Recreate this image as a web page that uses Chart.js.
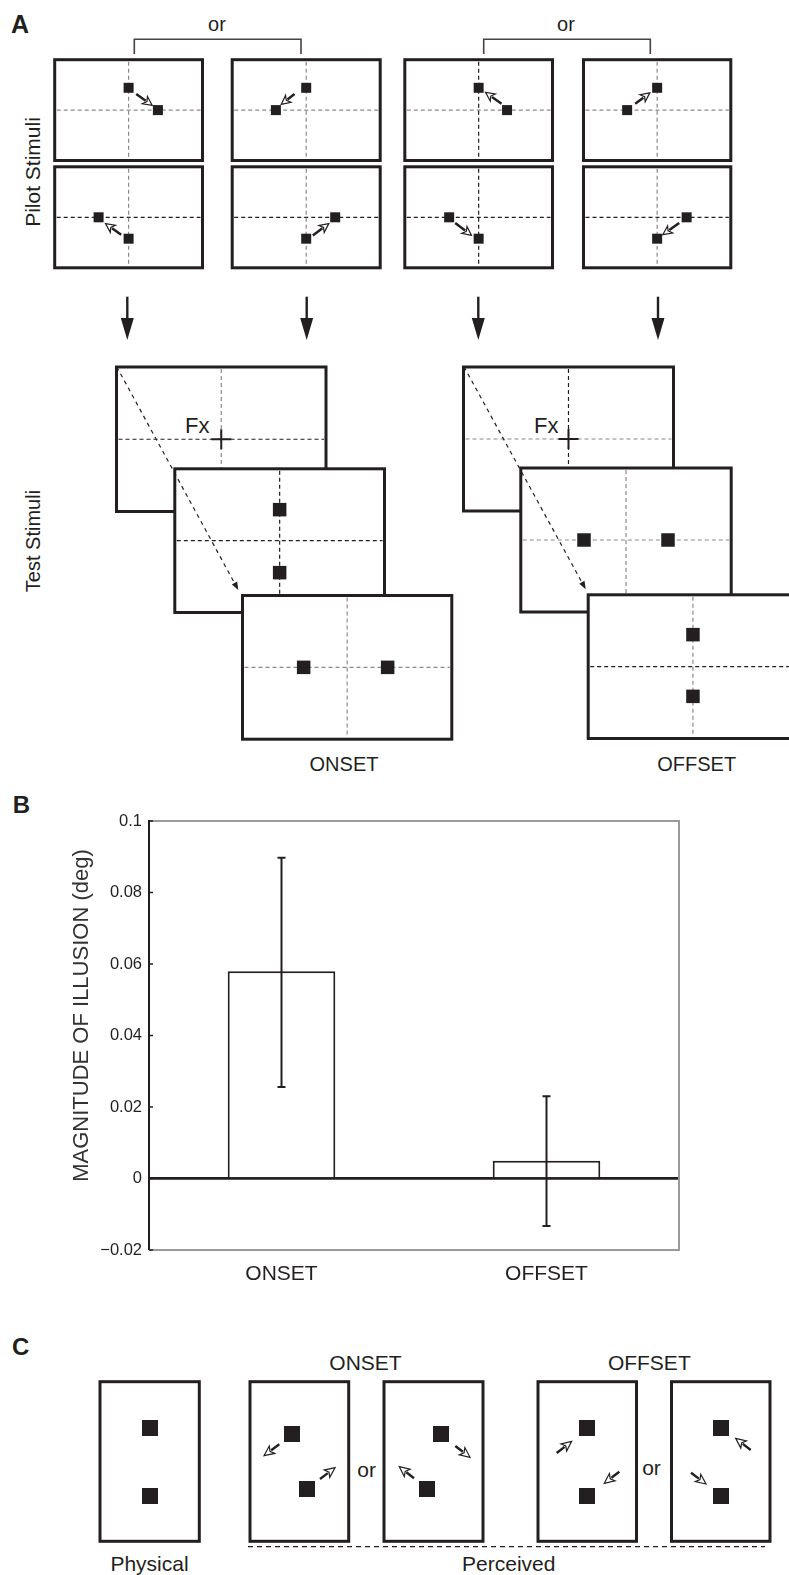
<!DOCTYPE html>
<html><head><meta charset="utf-8">
<script src="https://cdn.jsdelivr.net/npm/chart.js@4.4.1/dist/chart.umd.min.js"></script>
<style>
html,body{margin:0;padding:0;background:#fff;}
#page{position:relative;width:789px;height:1575px;overflow:hidden;background:#fff;}
#diagram{position:absolute;left:0;top:0;}
#chartBox{position:absolute;left:0;top:790px;width:789px;height:520px;}
</style></head><body>
<div id="page">
<svg id="diagram" width="789" height="1575" xmlns="http://www.w3.org/2000/svg"></svg>
<div id="chartBox"><canvas id="c" width="789" height="520"></canvas></div>
</div>
<script>
// ---- Panel B data ----
const categories = ['ONSET', 'OFFSET'];
const meanValues = [0.058, 0.005];
const errorUpper = [0.0897, 0.023];
const errorLower = [0.0256, -0.0133];
const yTickValues = [-0.02, 0, 0.02, 0.04, 0.06, 0.08, 0.1];
const yTickLabels = ['\u22120.02', '0', '0.02', '0.04', '0.06', '0.08', '0.1'];
const yAxisTitle = 'MAGNITUDE OF ILLUSION (deg)';

const INK = '#231f20', GRAY = '#8a8a8a';
const FONT = "'Liberation Sans', Arial, Helvetica, sans-serif";

// ---- Diagram helpers (panels A and C) ----
const NS = 'http://www.w3.org/2000/svg';
const svg = document.getElementById('diagram');
function el(tag, attrs) { const e = document.createElementNS(NS, tag); for (const k in attrs) e.setAttribute(k, attrs[k]); svg.appendChild(e); return e; }
function txt(str, x, y, size, o = {}) {
  const t = el('text', { x, y, 'font-size': size, 'font-family': FONT, fill: INK, 'text-anchor': o.anchor || 'middle', 'font-weight': o.weight || 'normal' });
  if (o.rotate) t.setAttribute('transform', `rotate(${o.rotate} ${x} ${y})`);
  t.textContent = str; return t;
}
function box(x1, y1, x2, y2, sw = 3) { el('rect', { x: x1, y: y1, width: x2 - x1, height: y2 - y1, fill: '#fff', stroke: INK, 'stroke-width': sw }); }
function dline(x1, y1, x2, y2, color, dash = '4 3', sw = 1.2) { el('line', { x1, y1, x2, y2, stroke: color, 'stroke-width': sw, 'stroke-dasharray': dash }); }
function sq(cx, cy, s) { el('rect', { x: cx - s / 2, y: cy - s / 2, width: s, height: s, fill: INK }); }
function arrow(x1, y1, x2, y2, headLen = 8, headW = 4, sw = 2.4) {
  const dx = x2 - x1, dy = y2 - y1, L = Math.hypot(dx, dy), ux = dx / L, uy = dy / L, px = -uy, py = ux;
  const bx = x2 - ux * headLen, by = y2 - uy * headLen;
  el('line', { x1, y1, x2: bx + ux, y2: by + uy, stroke: INK, 'stroke-width': sw });
  el('polygon', { points: `${x2},${y2} ${bx + px * headW},${by + py * headW} ${bx + ux * 2.5},${by + uy * 2.5} ${bx - px * headW},${by - py * headW}`, fill: '#fff', stroke: INK, 'stroke-width': 1.2 });
}
function crossLines(x1, y1, x2, y2, hColor, vColor) {
  const cx = (x1 + x2) / 2, cy = (y1 + y2) / 2;
  dline(x1 + 2, cy, x2 - 2, cy, hColor);
  dline(cx, y1 + 2, cx, y2 - 2, vColor);
  return [cx, cy];
}

// ---- Panel A ----
txt('A', 11, 33, 25, { anchor: 'start', weight: 'bold' });
txt('or', 217, 31, 20);
txt('or', 566, 31, 20);
el('polyline', { points: '134.3,54 134.3,39.3 301,39.3 301,54', fill: 'none', stroke: '#444', 'stroke-width': 1.6 });
el('polyline', { points: '483.7,54 483.7,39.3 650.3,39.3 650.3,54', fill: 'none', stroke: '#444', 'stroke-width': 1.6 });
txt('Pilot Stimuli', 40, 172, 21, { rotate: -90 });
txt('Test Stimuli', 40, 541, 20, { rotate: -90 });

const pilotCols = [[54.7, 202.5], [232.2, 380.2], [404.8, 552.5], [583.5, 730.8]];
const pilotRows = [[59.7, 160.5], [166.8, 267.8]];
const pilotLineColors = [
  [[GRAY, GRAY], [INK, GRAY]],
  [[GRAY, GRAY], [INK, GRAY]],
  [[GRAY, INK], [INK, INK]],
  [[GRAY, GRAY], [INK, GRAY]]
];
const sideTop = [29.3, -30.3, 28.4, -30];
const sideBot = [-30, 29, -29.5, 29.5];
pilotCols.forEach((c, ci) => {
  pilotRows.forEach((r, ri) => {
    box(c[0], r[0], c[1], r[1]);
    const [cx, cy] = crossLines(c[0], r[0], c[1], r[1], pilotLineColors[ci][ri][0], pilotLineColors[ci][ri][1]);
    if (ri === 0) { sq(cx, cy - 22.3, 10); sq(cx + sideTop[ci], cy, 10); }
    else { sq(cx, cy + 21.4, 10); sq(cx + sideBot[ci], cy, 10); }
  });
});
// pilot arrows (tail -> tip)
[[136.2, 93.9, 152.2, 105.4], [121.2, 234.7, 105.5, 223.6], [294.5, 93.9, 281.2, 104.4], [312.8, 235.4, 328.8, 223.6],
 [501.5, 103.7, 485.5, 92.3], [455.2, 222.9, 471.5, 235.4], [635.2, 103.7, 649.8, 92.9], [679.2, 222.9, 662.8, 234.7]]
  .forEach(a => arrow(a[0], a[1], a[2], a[3], 9, 4.4, 2.5));

// down arrows
[127.3, 306.7, 478.3, 658].forEach(x => {
  el('line', { x1: x, y1: 296.7, x2: x, y2: 320, stroke: INK, 'stroke-width': 2.4 });
  el('polygon', { points: `${x - 6.5},318 ${x + 6.5},318 ${x},340`, fill: INK });
});

function testGroup(frames, colors, fxX, squares2, squares3, diag, label, labelX) {
  frames.forEach((f, i) => {
    box(f[0], f[1], f[2], f[3]);
    const [cx, cy] = crossLines(f[0], f[1], f[2], f[3], colors[i][0], colors[i][1]);
    if (i === 0) {
      txt('Fx', fxX, 433, 22, { anchor: 'start' });
      el('line', { x1: cx - 10, y1: cy, x2: cx + 10, y2: cy, stroke: INK, 'stroke-width': 2 });
      el('line', { x1: cx, y1: cy - 10, x2: cx, y2: cy + 10, stroke: INK, 'stroke-width': 2 });
    }
    if (i === 1) squares2.forEach(s => sq(cx + s[0], cy + s[1], 13.5));
    if (i === 2) squares3.forEach(s => sq(cx + s[0], cy + s[1], 13.5));
  });
  const [x1, y1, x2, y2] = diag;
  const dx = x2 - x1, dy = y2 - y1, L = Math.hypot(dx, dy), ux = dx / L, uy = dy / L;
  dline(x1, y1, x2 - ux * 6, y2 - uy * 6, INK, '4 4', 1.2);
  el('polygon', { points: `${x2},${y2} ${x2 - ux * 8 - uy * 3},${y2 - uy * 8 + ux * 3} ${x2 - ux * 8 + uy * 3},${y2 - uy * 8 - ux * 3}`, fill: INK });
  txt(label, labelX, 771, 20);
}
testGroup([[116.5, 367, 326, 511.5], [174.8, 468.8, 384.5, 612.5], [242.5, 595.5, 451.8, 739.2]],
  [[INK, GRAY], [INK, INK], [GRAY, GRAY]], 185, [[0, -31], [0, 32]], [[-43.5, 0], [40.5, 0]],
  [116.7, 366.7, 238.3, 590], 'ONSET', 344);
testGroup([[463.5, 367, 673.5, 511], [520.8, 468, 731.2, 612], [588.2, 594.8, 797.7, 738.5]],
  [[GRAY, INK], [GRAY, GRAY], [INK, GRAY]], 534, [[-42, 0], [42, 0]], [[0, -32], [0, 29.7]],
  [464, 366.7, 585.7, 589.3], 'OFFSET', 696.7);

// ---- Panel B label ----
txt('B', 12.7, 813, 24, { anchor: 'start', weight: 'bold' });

// ---- Panel C ----
txt('C', 12, 1355, 24, { anchor: 'start', weight: 'bold' });
txt('ONSET', 365.5, 1369.5, 21);
txt('OFFSET', 649.3, 1369.5, 21);
const cY = [1381.7, 1541.3];
const cBoxes = [[100, 199.3], [250, 348.7], [384, 483], [538, 636.5], [671.5, 770]];
cBoxes.forEach(b => box(b[0], cY[0], b[1], cY[1]));
const cSquares = [[150, 1428], [150, 1496], [292, 1434], [307, 1489], [441, 1434], [427, 1489], [587, 1428], [587, 1496], [721, 1428], [721, 1496]];
cSquares.forEach(s => sq(s[0], s[1], 16));
[[279.3, 1444.3, 264, 1455.7], [320, 1479, 335, 1467.7], [455.3, 1446, 470, 1457.3], [414, 1478.3, 399.3, 1466.7],
 [556.7, 1453, 571.7, 1441.3], [619.3, 1471.7, 604.3, 1483.3], [750.7, 1450, 735.7, 1438.3], [691, 1472.7, 706, 1484]]
  .forEach(a => arrow(a[0], a[1], a[2], a[3], 10, 4.6, 2.4));
txt('or', 366.7, 1476.7, 21);
txt('or', 651.5, 1475, 21);
dline(248, 1546.7, 765, 1546.7, INK, '5 4', 1.3);
txt('Physical', 149.5, 1571, 21);
txt('Perceived', 508.8, 1571, 21);

// ---- Panel B chart (Chart.js) ----
const extras = {
  id: 'extras',
  beforeDraw(chart) {
    // the reference places the axis title slightly above the axis centre
    const s = chart.scales.y;
    if (s && !s._titleShifted) {
      const orig = s.drawTitle.bind(s);
      s.drawTitle = function () { this.ctx.save(); this.ctx.translate(0, -20); orig(); this.ctx.restore(); };
      s._titleShifted = true;
    }
  },
  beforeDatasetsDraw(chart) {
    const { ctx, chartArea: a, scales: { y } } = chart;
    ctx.save();
    ctx.strokeStyle = '#9a9a9a'; ctx.lineWidth = 2;
    ctx.beginPath(); ctx.moveTo(a.left + 1, a.top); ctx.lineTo(a.right, a.top); ctx.lineTo(a.right, a.bottom); ctx.lineTo(a.left + 1, a.bottom); ctx.stroke();
    ctx.strokeStyle = INK; ctx.lineWidth = 1.5;
    y.ticks.forEach((t, i) => { const py = y.getPixelForTick(i); ctx.beginPath(); ctx.moveTo(a.left, py); ctx.lineTo(a.left + 4, py); ctx.stroke(); });
    ctx.restore();
  },
  afterDatasetsDraw(chart) {
    const { ctx, scales: { y } } = chart;
    const meta = chart.getDatasetMeta(0);
    ctx.save(); ctx.strokeStyle = INK; ctx.lineWidth = 2;
    meta.data.forEach((bar, i) => {
      const yt = y.getPixelForValue(errorUpper[i]), yb = y.getPixelForValue(errorLower[i]);
      ctx.beginPath();
      ctx.moveTo(bar.x, yt); ctx.lineTo(bar.x, yb);
      ctx.moveTo(bar.x - 4, yt); ctx.lineTo(bar.x + 4, yt);
      ctx.moveTo(bar.x - 4, yb); ctx.lineTo(bar.x + 4, yb);
      ctx.stroke();
    });
    ctx.restore();
  }
};

new Chart(document.getElementById('c'), {
  type: 'bar',
  data: {
    labels: categories,
    datasets: [{ data: meanValues, backgroundColor: '#ffffff', borderColor: INK, borderWidth: 2, barPercentage: 0.406, categoryPercentage: 1 }]
  },
  options: {
    responsive: false, animation: false, devicePixelRatio: 1, events: [],
    layout: { padding: { top: 31, right: 110, left: 0, bottom: 0 } },
    plugins: { legend: { display: false }, tooltip: { enabled: false } },
    scales: {
      x: {
        offset: true,
        grid: { display: false, drawTicks: false },
        border: { display: false },
        ticks: { color: INK, font: { family: FONT, size: 21 }, padding: 12 },
        afterFit: s => { s.height = 60; }
      },
      y: {
        min: -0.02, max: 0.1,
        afterBuildTicks: s => { s.ticks = yTickValues.map(v => ({ value: v })); },
        ticks: {
          color: INK, font: { family: FONT, size: 16.5 }, padding: 7,
          callback: v => { const i = yTickValues.findIndex(t => Math.abs(t - v) < 1e-9); return i >= 0 ? yTickLabels[i] : ''; }
        },
        grid: {
          drawTicks: false,
          color: c => (c.tick && Math.abs(c.tick.value) < 1e-9) ? INK : 'rgba(0,0,0,0)',
          lineWidth: c => (c.tick && Math.abs(c.tick.value) < 1e-9) ? 2.7 : 0
        },
        border: { display: true, color: INK, width: 2 },
        title: { display: true, text: yAxisTitle, color: '#333', font: { family: FONT, size: 22 }, padding: { top: 69, bottom: 0 } },
        afterFit: s => { s.width = 149; }
      }
    }
  },
  plugins: [extras]
});
</script>
</body></html>
